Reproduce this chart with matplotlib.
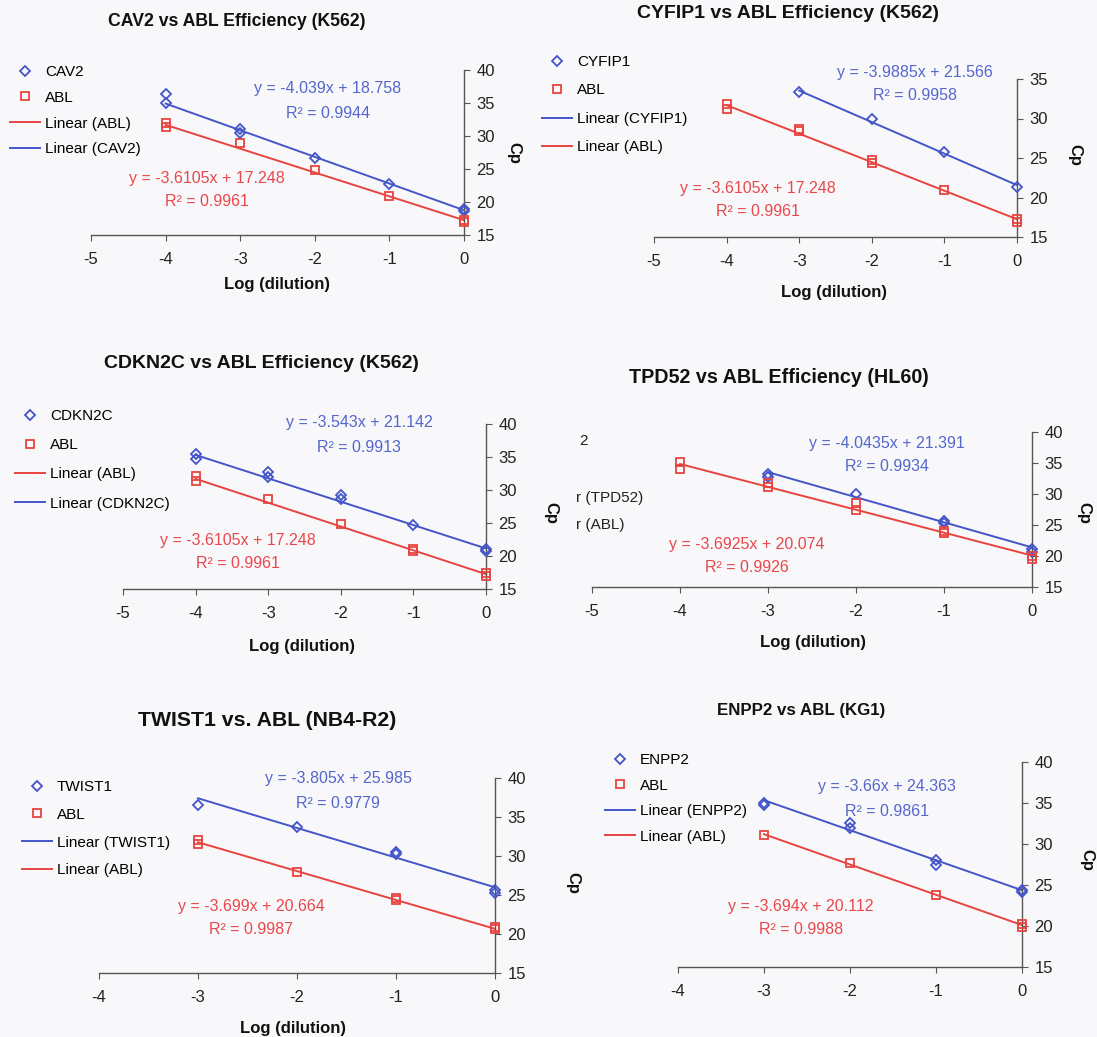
import matplotlib
matplotlib.use("Agg")
import matplotlib.pyplot as plt
from matplotlib.lines import Line2D
import numpy as np

plt.rcParams['font.family'] = ['Liberation Sans', 'DejaVu Sans']
plt.rcParams['axes.unicode_minus'] = False

W, H = 1097, 1037
BLUE = '#4455c8'
RED = '#e8443f'
BLUE_T = '#5566cc'
RED_T = '#e8474c'
AX = '#555555'
BG = '#f8f8fa'

# ---------------- data ----------------
titles = ["CAV2 vs ABL Efficiency (K562)", "CYFIP1 vs ABL Efficiency (K562)",
          "CDKN2C vs ABL Efficiency (K562)", "TPD52 vs ABL Efficiency (HL60)",
          "TWIST1 vs. ABL (NB4-R2)", "ENPP2 vs ABL (KG1)"]
genes = ["CAV2", "CYFIP1", "CDKN2C", "TPD52", "TWIST1", "ENPP2"]

gene_x = [
    [-4, -4, -3, -3, -2, -1, 0, 0],
    [-3, -2, -1, 0],
    [-4, -4, -3, -3, -2, -2, -1, 0, 0],
    [-3, -3, -2, -1, -1, 0, 0],
    [-3, -2, -1, -1, 0, 0],
    [-3, -3, -2, -2, -1, -1, 0, 0],
]
gene_y = [
    [36.3, 34.95, 31.0, 30.4, 26.7, 22.7, 19.0, 18.7],
    [33.3, 29.9, 25.7, 21.3],
    [35.5, 34.7, 32.8, 32.0, 29.2, 28.7, 24.7, 21.0, 20.7],
    [33.3, 32.8, 30.0, 25.7, 25.4, 21.1, 20.7],
    [36.6, 33.7, 30.5, 30.3, 25.6, 25.2],
    [35.0, 34.7, 32.6, 32.0, 28.1, 27.4, 24.4, 24.1],
]
abl_x = [
    [-4, -4, -3, -2, -1, 0, 0],
    [-4, -4, -3, -3, -2, -2, -1, 0, 0],
    [-4, -4, -3, -2, -1, -1, 0, 0],
    [-4, -4, -3, -3, -2, -2, -1, -1, 0, 0],
    [-3, -3, -2, -1, -1, 0, 0],
    [-3, -2, -1, 0, 0],
]
abl_y = [
    [31.9, 31.3, 28.9, 24.8, 20.9, 17.3, 16.9],
    [31.8, 31.2, 28.7, 28.4, 24.8, 24.4, 20.9, 17.3, 16.9],
    [32.1, 31.4, 28.7, 24.8, 21.05, 20.8, 17.4, 16.9],
    [35.2, 34.1, 31.8, 31.2, 28.5, 27.5, 24.0, 23.7, 20.0, 19.5],
    [32.0, 31.6, 27.9, 24.6, 24.4, 20.9, 20.7],
    [31.1, 27.7, 23.8, 20.3, 19.9],
]
gene_slope = [-4.039, -3.9885, -3.543, -4.0435, -3.805, -3.66]
gene_icpt = [18.758, 21.566, 21.142, 21.391, 25.985, 24.363]
gene_r2 = ["0.9944", "0.9958", "0.9913", "0.9934", "0.9779", "0.9861"]
abl_slope = [-3.6105, -3.6105, -3.6105, -3.6925, -3.699, -3.694]
abl_icpt = [17.248, 17.248, 17.248, 20.074, 20.664, 20.112]
abl_r2 = ["0.9961", "0.9961", "0.9961", "0.9926", "0.9987", "0.9988"]

x_ticks = [[-5, -4, -3, -2, -1, 0]] * 4 + [[-4, -3, -2, -1, 0]] * 2
y_ticks = [[15, 20, 25, 30, 35, 40], [15, 20, 25, 30, 35]] + [[15, 20, 25, 30, 35, 40]] * 4

# ---------------- layout (pixels) ----------------
# left, right, top, bottom of plot area
boxes = [(91, 464, 70, 235), (654, 1017, 79, 237), (123, 486, 424, 589),
         (592, 1032, 432, 587), (99, 495, 778, 973), (678, 1022, 762, 967)]
title_pos = [(237, 22), (788, 14), (261, 364), (779, 377), (267, 720), (801, 710)]
title_fs = [12.7, 14, 14, 14.2, 15.3, 12.2]
xlabel_pos = [(277, 284), (834, 293), (302, 647), (813, 643), (293, 1028), None]
cp_pos = [(514, 153), (1075, 155), (551, 513), (1084, 513), (573, 883), (1087, 860)]
eq_gene_pos = [(328, 89), (915, 72), (359, 423), (887, 443), (338, 779), (887, 787)]
eq_abl_pos = [(207, 178), (758, 188), (238, 540), (747, 545), (251, 907), (801, 907)]
# legend: marker centre x, first row centre y, row spacing, order of line entries
legend_spec = [(25, 71, 25.3, ['abl', 'gene']), (557, 61, 28, ['gene', 'abl']),
               (30, 415, 28.7, ['abl', 'gene']), None,
               (37, 786, 27.3, ['gene', 'abl']), (620, 759, 25, ['gene', 'abl'])]

fig = plt.figure(figsize=(W / 100, H / 100), dpi=100, facecolor=BG)


def fx(px):
    return px / W


def fy(py):
    return 1 - py / H


FS = 11.5      # equations
LFS = 11       # legend
TFS = 12       # tick labels
XFS = 12       # axis labels
for i in range(6):
    l, r, t, b = boxes[i]
    ax = fig.add_axes([fx(l), fy(b), fx(r) - fx(l), fy(t) - fy(b)])
    ax.set_facecolor('none')
    ax.set_xlim(x_ticks[i][0], 0)
    ax.set_ylim(15, y_ticks[i][-1])
    ax.set_xticks(x_ticks[i])
    ax.set_yticks(y_ticks[i])
    for s in ['top', 'left']:
        ax.spines[s].set_visible(False)
    for s in ['bottom', 'right']:
        ax.spines[s].set_color(AX)
        ax.spines[s].set_linewidth(1.0)
    ax.yaxis.tick_right()
    ax.tick_params(axis='x', direction='out', length=4, color=AX, pad=8,
                   labelsize=TFS, labelcolor='#222222')
    ax.tick_params(axis='y', direction='out', length=4, color=AX, pad=5,
                   labelsize=TFS, labelcolor='#222222')

    # trend lines
    gx = np.array([min(gene_x[i]), max(gene_x[i])], dtype=float)
    ax.plot(gx, gene_slope[i] * gx + gene_icpt[i], color=BLUE, lw=1.4, clip_on=False, zorder=2)
    bx = np.array([min(abl_x[i]), max(abl_x[i])], dtype=float)
    ax.plot(bx, abl_slope[i] * bx + abl_icpt[i], color=RED, lw=1.4, clip_on=False, zorder=2)
    # points
    ax.plot(gene_x[i], gene_y[i], ls='none', marker='D', ms=4.8, mfc='none',
            mec=BLUE, mew=1.3, clip_on=False, zorder=3)
    ax.plot(abl_x[i], abl_y[i], ls='none', marker='s', ms=5.3, mfc='none',
            mec=RED, mew=1.3, clip_on=False, zorder=3)

    # equations
    sg = "y = %sx + %s" % (("%g" % gene_slope[i]), ("%g" % gene_icpt[i]))
    sa = "y = %sx + %s" % (("%g" % abl_slope[i]), ("%g" % abl_icpt[i]))
    ex, ey = eq_gene_pos[i]
    fig.text(fx(ex), fy(ey), sg, color=BLUE_T, fontsize=FS, ha='center', va='center')
    fig.text(fx(ex), fy(ey + 24), "R² = " + gene_r2[i], color=BLUE_T, fontsize=FS,
             ha='center', va='center')
    ex, ey = eq_abl_pos[i]
    fig.text(fx(ex), fy(ey), sa, color=RED_T, fontsize=FS, ha='center', va='center')
    fig.text(fx(ex), fy(ey + 23), "R² = " + abl_r2[i], color=RED_T, fontsize=FS,
             ha='center', va='center')

    # titles / labels
    tx, ty = title_pos[i]
    fig.text(fx(tx), fy(ty), titles[i], fontsize=title_fs[i], fontweight='bold',
             ha='center', va='center', color='#111111')
    if xlabel_pos[i] is not None:
        lx, ly = xlabel_pos[i]
        fig.text(fx(lx), fy(ly), "Log (dilution)", fontsize=XFS, fontweight='bold',
                 ha='center', va='center', color='#111111')
    cx, cy = cp_pos[i]
    fig.text(fx(cx), fy(cy), "Cp", fontsize=XFS, fontweight='bold', rotation=270,
             ha='center', va='center', color='#111111')

    # legend
    spec = legend_spec[i]
    if spec is not None:
        mx, ry, sp, order = spec
        hl = 2.0
        handles = [Line2D([], [], ls='none', marker='D', ms=4.8, mfc='none', mec=BLUE, mew=1.3),
                   Line2D([], [], ls='none', marker='s', ms=5.3, mfc='none', mec=RED, mew=1.3)]
        labels = [genes[i], "ABL"]
        for o in order:
            if o == 'gene':
                handles.append(Line2D([], [], color=BLUE, lw=1.4))
                labels.append("Linear (%s)" % genes[i])
            else:
                handles.append(Line2D([], [], color=RED, lw=1.4))
                labels.append("Linear (ABL)")
        fsp = LFS * 100 / 72
        left = mx - hl * fsp / 2
        fig.legend(handles, labels, loc='upper left',
                   bbox_to_anchor=(fx(left), fy(ry - 6)), bbox_transform=fig.transFigure,
                   frameon=False, fontsize=LFS, handlelength=hl, handletextpad=0.3,
                   labelspacing=(sp - 13.5) / fsp, borderpad=0, borderaxespad=0)

# partially hidden legend of the TPD52 panel
fig.text(fx(583), fy(441), "2", fontsize=LFS, ha='center', va='center', color='#222222')
fig.text(fx(576), fy(498), "r (TPD52)", fontsize=LFS, ha='left', va='center', color='#222222')
fig.text(fx(576), fy(525), "r (ABL)", fontsize=LFS, ha='left', va='center', color='#222222')

fig.savefig("out.png", dpi=100, facecolor=BG)
